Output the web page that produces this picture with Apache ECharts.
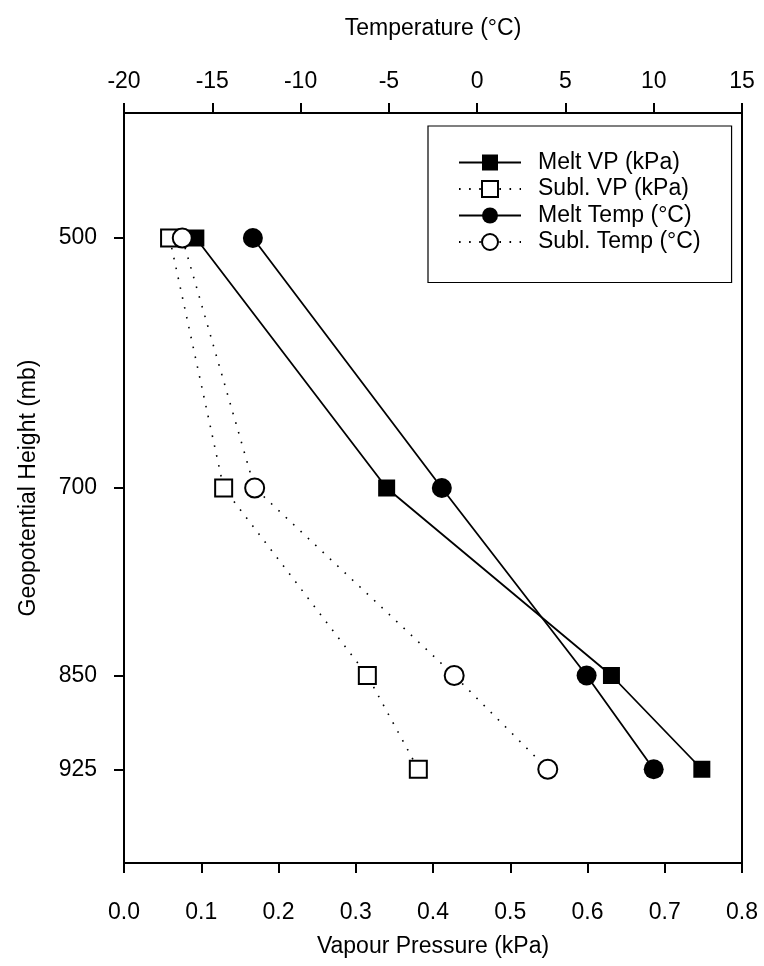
<!DOCTYPE html>
<html>
<head>
<meta charset="utf-8">
<script src="https://cdn.jsdelivr.net/npm/echarts@6/dist/echarts.min.js"></script>
<style>
  html, body { margin: 0; padding: 0; background: #fff; }
  #chart { width: 764px; height: 966px; }
</style>
</head>
<body>
<div id="chart"></div>
<script>
// pressure levels (mb)
const levels = [500, 700, 850, 925];
// vapour pressure (kPa), bottom axis
const meltVP = [0.093, 0.340, 0.631, 0.748];
const sublVP = [0.059, 0.129, 0.315, 0.381];
// temperature (°C), top axis
const meltTemp = [-12.7, -2.0, 6.2, 10.0];
const sublTemp = [-16.7, -12.6, -1.3, 4.0];

const font = "'Liberation Sans', Arial, sans-serif";
const black = "#000";
const fs = 23;

const pairs = (xs) => xs.map((x, i) => [x, levels[i]]);

const chart = echarts.init(document.getElementById("chart"));

const solid = { color: black, width: 1.8, type: "solid" };
const dotted = { color: black, width: 1.6, type: [1.6, 8.5] };
const axisLine = { show: true, lineStyle: { color: black, width: 2 } };
const tickStyle = { color: black, width: 2 };
const nameStyle = { fontSize: fs, color: black, fontFamily: font };

chart.setOption({
  animation: false,
  backgroundColor: "#fff",
  textStyle: { fontFamily: font, color: black },
  grid: {
    left: 124,
    right: 22,
    top: 113,
    bottom: 103,
    show: true,
    borderColor: black,
    borderWidth: 2,
  },
  legend: {
    orient: "vertical",
    left: 428,
    top: 126,
    padding: [25, 31, 29, 30],
    itemGap: 3.5,
    itemWidth: 62,
    itemHeight: 20,
    borderColor: black,
    borderWidth: 1.2,
    textStyle: {
      fontFamily: font,
      fontSize: fs,
      lineHeight: 20,
      color: black,
      padding: [0, 0, 0, 12],
    },
    data: ["Melt VP (kPa)", "Subl. VP (kPa)", "Melt Temp (°C)", "Subl. Temp (°C)"],
  },
  xAxis: [
    {
      type: "value",
      position: "bottom",
      min: 0,
      max: 0.8,
      interval: 0.1,
      splitLine: { show: false },
      axisLine: axisLine,
      axisTick: { show: true, inside: false, length: 10, lineStyle: tickStyle },
      axisLabel: {
        margin: 38,
        fontSize: fs,
        color: black,
        fontFamily: font,
        formatter: (v) => v.toFixed(1),
      },
      name: "Vapour Pressure (kPa)",
      nameLocation: "middle",
      nameGap: 72,
      nameTextStyle: nameStyle,
    },
    {
      type: "value",
      position: "top",
      min: -20,
      max: 15,
      interval: 5,
      splitLine: { show: false },
      axisLine: axisLine,
      axisTick: { show: true, inside: false, length: 10, lineStyle: tickStyle },
      axisLabel: { margin: 20, fontSize: fs, color: black, fontFamily: font },
      name: "Temperature (°C)",
      nameLocation: "middle",
      nameGap: 73,
      nameTextStyle: nameStyle,
    },
  ],
  yAxis: {
    type: "value",
    inverse: true,
    min: 400,
    max: 1000,
    splitLine: { show: false },
    axisLine: axisLine,
    axisTick: {
      show: true,
      length: 10,
      customValues: levels,
      lineStyle: tickStyle,
    },
    axisLabel: {
      margin: 27,
      fontSize: fs,
      color: black,
      fontFamily: font,
      customValues: levels,
    },
    name: "Geopotential Height (mb)",
    nameLocation: "middle",
    nameGap: 84,
    nameTextStyle: nameStyle,
  },
  series: [
    {
      name: "Subl. VP (kPa)",
      type: "line",
      xAxisIndex: 0,
      data: pairs(sublVP),
      symbol: "rect",
      symbolSize: 17,
      lineStyle: dotted,
      itemStyle: { color: "#fff", borderColor: black, borderWidth: 2 },
      z: 2,
    },
    {
      name: "Melt VP (kPa)",
      type: "line",
      xAxisIndex: 0,
      data: pairs(meltVP),
      symbol: "rect",
      symbolSize: 17,
      lineStyle: solid,
      itemStyle: { color: black, borderColor: black, borderWidth: 0 },
      z: 2,
    },
    {
      name: "Subl. Temp (°C)",
      type: "line",
      xAxisIndex: 1,
      data: pairs(sublTemp),
      symbol: "circle",
      symbolSize: 19,
      lineStyle: dotted,
      itemStyle: { color: "#fff", borderColor: black, borderWidth: 2 },
      z: 3,
    },
    {
      name: "Melt Temp (°C)",
      type: "line",
      xAxisIndex: 1,
      data: pairs(meltTemp),
      symbol: "circle",
      symbolSize: 20,
      lineStyle: solid,
      itemStyle: { color: black, borderColor: black, borderWidth: 0 },
      z: 4,
    },
  ],
});
</script>
</body>
</html>
